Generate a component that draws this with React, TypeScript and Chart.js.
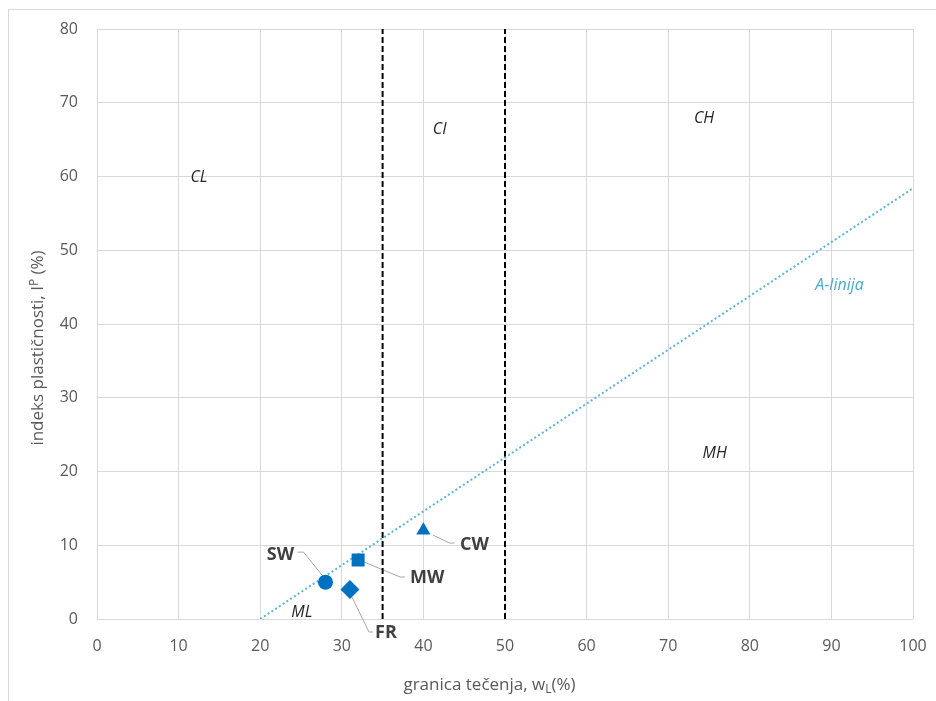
import React, { useEffect, useRef } from "react";
import { Chart, registerables } from "chart.js";

Chart.register(...registerables);

// ---- data ----
const pointNames = ["SW", "FR", "MW", "CW"];
const liquidLimit = [28, 31, 32, 40];
const plasticityIndex = [5, 4, 8, 12];
const pointShapes = ["circle", "rectRot", "rect", "triangle"];
const pointSizes = [7.5, 9.5, 9.2, 8.2];

const aLineX = [20, 100];
const aLineY = [0, 58.4];
const boundaryX = [35, 50];

const xMin = 0, xMax = 100, xStep = 10;
const yMin = 0, yMax = 80, yStep = 10;

const zoneNames = ["CL", "CI", "CH", "MH", "ML"];
const zoneX = [12.5, 42, 74.4, 75.7, 25.1];
const zoneY = [59.9, 66.4, 67.9, 22.5, 0.95];

const aLineLabel = "A-linija";
const aLineLabelX = 91;
const aLineLabelY = 45.2;

const xTitleMain = "granica tečenja, w";
const xTitleSub = "L";
const xTitleEnd = "(%)";
const yTitleMain = "indeks plastičnosti, I";
const yTitleSup = "P";
const yTitleEnd = " (%)";

// label layout (pixel offsets from each point): text centre, leader path
const labelOffsets = [
  { tx: -45, ty: -27, path: [[-28, -30], [-22, -30], [-1, -4]] },
  { tx: 36, ty: 43.5, path: [[2, 7.5], [19, 42.5], [23, 42.5]] },
  { tx: 69, ty: 18, path: [[6, 2], [42, 17], [47, 17]] },
  { tx: 51, ty: 14.5, path: [[9.5, 4.5], [26, 12.5], [31, 12.5]] },
];

const FONT = "'Open Sans', 'Liberation Sans', sans-serif";
const BLUE = "#0070C0";
const ALINE = "#5AB4D2";

export default function App() {
  const ref = useRef<HTMLCanvasElement | null>(null);

  useEffect(() => {
    const canvas = ref.current;
    if (!canvas) return;

    const overlay = {
      id: "overlay",
      beforeDraw(chart: any) {
        const ctx = chart.ctx;
        ctx.save();
        ctx.strokeStyle = "#D9D9D9";
        ctx.lineWidth = 1;
        ctx.strokeRect(8.5, 9.5, 1000, 1000);
        ctx.restore();
      },
      beforeDatasetsDraw(chart: any) {
        const ctx = chart.ctx;
        const xs = chart.scales.x;
        const ys = chart.scales.y;
        ctx.save();
        ctx.strokeStyle = "#A6A6A6";
        ctx.lineWidth = 1;
        pointNames.forEach((_, i) => {
          const px = xs.getPixelForValue(liquidLimit[i]);
          const py = ys.getPixelForValue(plasticityIndex[i]);
          const p = labelOffsets[i].path;
          ctx.beginPath();
          ctx.moveTo(px + p[0][0], py + p[0][1]);
          for (let k = 1; k < p.length; k++) ctx.lineTo(px + p[k][0], py + p[k][1]);
          ctx.stroke();
        });
        ctx.restore();
      },
      afterDatasetsDraw(chart: any) {
        const ctx = chart.ctx;
        const xs = chart.scales.x;
        const ys = chart.scales.y;
        ctx.save();
        ctx.textAlign = "center";
        ctx.textBaseline = "middle";
        // zone labels
        ctx.fillStyle = "#262626";
        ctx.font = `italic 16px ${FONT}`;
        zoneNames.forEach((n, i) => {
          ctx.fillText(n, xs.getPixelForValue(zoneX[i]), ys.getPixelForValue(zoneY[i]));
        });
        ctx.fillStyle = "#4BACC6";
        ctx.fillText(aLineLabel, xs.getPixelForValue(aLineLabelX), ys.getPixelForValue(aLineLabelY));
        // point labels
        ctx.fillStyle = "#404040";
        ctx.font = `bold 18px ${FONT}`;
        pointNames.forEach((n, i) => {
          const px = xs.getPixelForValue(liquidLimit[i]);
          const py = ys.getPixelForValue(plasticityIndex[i]);
          ctx.fillText(n, px + labelOffsets[i].tx, py + labelOffsets[i].ty);
        });
        ctx.restore();
      },
      afterDraw(chart: any) {
        const ctx = chart.ctx;
        ctx.save();
        ctx.fillStyle = "#595959";
        ctx.textBaseline = "alphabetic";
        ctx.textAlign = "left";
        // x title
        const big = `17px ${FONT}`;
        const small = `12px ${FONT}`;
        ctx.font = big;
        const w1 = ctx.measureText(xTitleMain).width;
        const w3 = ctx.measureText(xTitleEnd).width;
        ctx.font = small;
        const w2 = ctx.measureText(xTitleSub).width;
        let x0 = 489.5 - (w1 + w2 + w3) / 2;
        const yb = 690;
        ctx.font = big;
        ctx.fillText(xTitleMain, x0, yb);
        ctx.font = small;
        ctx.fillText(xTitleSub, x0 + w1, yb + 3);
        ctx.font = big;
        ctx.fillText(xTitleEnd, x0 + w1 + w2, yb);
        // y title
        ctx.translate(43, 348);
        ctx.rotate(-Math.PI / 2);
        ctx.font = big;
        const v1 = ctx.measureText(yTitleMain).width;
        const v3 = ctx.measureText(yTitleEnd).width;
        ctx.font = small;
        const v2 = ctx.measureText(yTitleSup).width;
        const s0 = -(v1 + v2 + v3) / 2;
        ctx.font = big;
        ctx.fillText(yTitleMain, s0, 0);
        ctx.font = small;
        ctx.fillText(yTitleSup, s0 + v1, -5);
        ctx.font = big;
        ctx.fillText(yTitleEnd, s0 + v1 + v2, 0);
        ctx.restore();
      },
    };

    const chart = new Chart(canvas, {
      type: "scatter",
      data: {
        datasets: [
          {
            label: "points",
            data: liquidLimit.map((x, i) => ({ x, y: plasticityIndex[i] })),
            pointStyle: pointShapes as any,
            pointRadius: pointSizes,
            backgroundColor: BLUE,
            borderColor: BLUE,
            borderWidth: 0,
            showLine: false,
          },
          {
            label: "A-linija",
            data: aLineX.map((x, i) => ({ x, y: aLineY[i] })),
            showLine: true,
            borderColor: ALINE,
            borderWidth: 2,
            borderDash: [2, 2.5],
            pointRadius: 0,
          },
          ...boundaryX.map((bx) => ({
            label: "boundary " + bx,
            data: [
              { x: bx, y: yMin },
              { x: bx, y: yMax },
            ],
            showLine: true,
            borderColor: "#000000",
            borderWidth: 2,
            borderDash: [6, 3],
            pointRadius: 0,
          })),
        ],
      },
      options: {
        responsive: false,
        animation: false,
        events: [],
        layout: { padding: { left: 0, top: 29, right: 23, bottom: 0 } },
        plugins: {
          legend: { display: false },
          tooltip: { enabled: false },
          title: { display: false },
        },
        scales: {
          x: {
            type: "linear",
            min: xMin,
            max: xMax,
            ticks: { stepSize: xStep, color: "#595959", font: { family: FONT, size: 16 }, padding: 18 },
            grid: { color: "#D9D9D9", drawTicks: false },
            border: { display: false },
            afterFit(scale: any) {
              scale.height = 82;
              scale.paddingLeft = 0;
              scale.paddingRight = 0;
            },
          },
          y: {
            type: "linear",
            min: yMin,
            max: yMax,
            ticks: { stepSize: yStep, color: "#595959", font: { family: FONT, size: 16 }, padding: 19 },
            grid: { color: "#D9D9D9", drawTicks: false },
            border: { display: false },
            afterFit(scale: any) {
              scale.width = 97;
              scale.paddingTop = 0;
              scale.paddingBottom = 0;
            },
          },
        },
      },
      plugins: [overlay],
    });

    return () => chart.destroy();
  }, []);

  return (
    <div style={{ position: "absolute", left: 0, top: 0, width: 936, height: 701, background: "#fff" }}>
      <canvas ref={ref} width={936} height={701} />
    </div>
  );
}
